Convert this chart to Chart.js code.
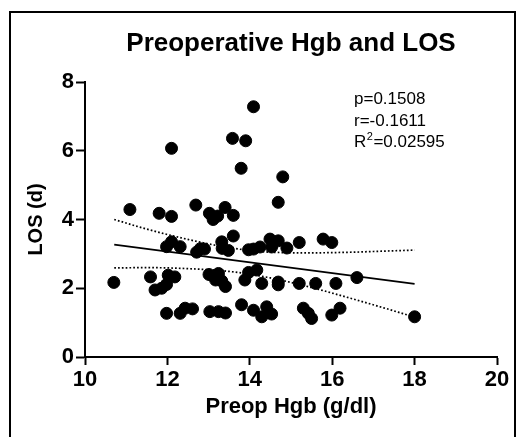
<!DOCTYPE html>
<html><head><meta charset="utf-8">
<script src="https://cdn.jsdelivr.net/npm/chart.js@4.4.0/dist/chart.umd.min.js"></script>
<style>
html,body{margin:0;padding:0;background:#fff;overflow:hidden;}
#wrap{position:relative;width:519px;height:437px;overflow:hidden;}
#frame{position:absolute;left:9px;top:11px;width:503px;height:440px;border:2px solid #000;pointer-events:none;}
canvas{position:absolute;left:0;top:0;}
</style></head><body>
<div id="wrap"><canvas id="c" width="519" height="437"></canvas><div id="frame"></div></div>
<script>
// Scatter data
const hgb = [10.70, 11.09, 11.59, 11.70, 11.80, 11.86, 11.98, 11.98, 11.98, 12.02,
             12.10, 12.10, 12.10, 12.18, 12.31, 12.31, 12.43, 12.61, 12.69, 12.71,
             12.80, 12.90, 13.02, 13.11, 13.22, 13.01, 13.24, 13.17, 13.32, 13.41,
             13.03, 13.24, 13.41, 13.32, 13.33, 13.48, 13.40, 13.60, 13.60, 13.58,
             13.90, 13.79, 13.80, 13.88, 13.97, 14.17, 13.97, 14.09, 14.25, 14.09,
             14.09, 14.29, 14.29, 14.41, 14.53, 14.49, 14.53, 14.69, 14.69, 14.69,
             14.69, 14.80, 14.90, 15.20, 15.20, 15.30, 15.42, 15.50, 15.60, 15.78,
             15.99, 15.99, 16.09, 16.19, 16.60, 18.00];
const los = [2.17, 4.29, 2.33, 1.95, 4.18, 2.00, 2.11, 1.27, 3.21, 2.38,
             6.07, 4.09, 3.35, 2.33, 3.21, 1.27, 1.42, 1.40, 4.42, 3.05,
             3.15, 3.14, 4.18, 4.00, 4.10, 2.40, 2.43, 2.24, 2.21, 2.05,
             1.32, 1.32, 1.28, 3.35, 3.16, 3.10, 4.35, 4.12, 3.52, 6.36,
             6.29, 5.49, 1.52, 2.24, 2.46, 2.53, 3.12, 3.14, 3.20, 7.28,
             1.36, 2.14, 1.17, 1.46, 1.25, 3.43, 3.20, 3.38, 4.50, 2.10,
             2.18, 5.24, 3.17, 3.33, 2.14, 1.42, 1.27, 1.12, 2.14, 3.43,
             3.33, 1.22, 2.14, 1.42, 2.31, 1.17];
// Regression line end points
const fitX = [10.71, 18.0];
const fitY = [3.27, 2.13];
// Confidence band (dotted)
const bandX = [10.71, 11.5, 12.5, 13.5, 14.5, 15.5, 16.5, 17.25, 18.0];
const bandUpper = [4.00, 3.72, 3.42, 3.18, 3.05, 3.03, 3.05, 3.08, 3.11];
const bandLower = [2.59, 2.60, 2.57, 2.49, 2.30, 2.02, 1.69, 1.43, 1.16];
// Tick labels
const xTicks = [10, 12, 14, 16, 18, 20];
const yTicks = [0, 2, 4, 6, 8];
const titleText = 'Preoperative Hgb and LOS';
const xTitle = 'Preop Hgb (g/dl)';
const yTitle = 'LOS (d)';
const statP = 'p=0.1508';
const statR = 'r=-0.1611';
const statR2 = '0.02595';

const FONT = "'Liberation Sans', Arial, Helvetica, sans-serif";

const textPlugin = {
  id: 'texts',
  afterDraw(chart) {
    const ctx = chart.ctx;
    const ca = chart.chartArea;
    ctx.save();
    ctx.fillStyle = '#000';
    ctx.textBaseline = 'alphabetic';
    ctx.textAlign = 'center';
    ctx.font = 'bold 26px ' + FONT;
    ctx.fillText(titleText, (ca.left + ca.right) / 2, 51);
    ctx.textAlign = 'left';
    ctx.font = '17px ' + FONT;
    const sx = 354;
    ctx.fillText(statP, sx, 104);
    ctx.fillText(statR, sx, 125.5);
    ctx.fillText('R', sx, 147);
    const rw = ctx.measureText('R').width;
    ctx.font = '11px ' + FONT;
    ctx.fillText('2', sx + rw + 0.5, 140);
    const w2 = ctx.measureText('2').width;
    ctx.font = '17px ' + FONT;
    ctx.fillText('=' + statR2, sx + rw + w2 + 1, 147);
    ctx.restore();
  }
};

const tickFont = { family: FONT, size: 22, weight: 'bold' };

new Chart(document.getElementById('c'), {
  type: 'scatter',
  data: {
    datasets: [
      {
        data: hgb.map((x, i) => ({ x: x, y: los[i] })),
        pointRadius: 6, pointHoverRadius: 6,
        pointBackgroundColor: '#000', pointBorderColor: '#000', pointBorderWidth: 1
      },
      {
        type: 'line',
        data: fitX.map((x, i) => ({ x: x, y: fitY[i] })),
        borderColor: '#000', borderWidth: 1.8, pointRadius: 0, fill: false
      },
      {
        type: 'line',
        data: bandX.map((x, i) => ({ x: x, y: bandUpper[i] })),
        borderColor: '#000', borderWidth: 1.7, borderDash: [1.7, 2.1],
        pointRadius: 0, fill: false, cubicInterpolationMode: 'monotone'
      },
      {
        type: 'line',
        data: bandX.map((x, i) => ({ x: x, y: bandLower[i] })),
        borderColor: '#000', borderWidth: 1.7, borderDash: [1.7, 2.1],
        pointRadius: 0, fill: false, cubicInterpolationMode: 'monotone'
      }
    ]
  },
  options: {
    responsive: false,
    animation: false,
    events: [],
    layout: { padding: { left: 0, right: 22, top: 82, bottom: 0 } },
    plugins: { legend: { display: false }, tooltip: { enabled: false }, title: { display: false } },
    scales: {
      x: {
        type: 'linear', min: 10, max: 20,
        afterBuildTicks: s => { s.ticks = xTicks.map(v => ({ value: v })); },
        afterFit: s => { s.height = 80; },
        ticks: { font: tickFont, color: '#000', padding: 2, maxRotation: 0 },
        grid: { drawOnChartArea: false, drawTicks: true, tickLength: 8, tickWidth: 2, tickColor: '#000' },
        border: { display: true, color: '#000', width: 2 },
        title: { display: true, text: xTitle, color: '#000', font: { family: FONT, size: 22, weight: 'bold' }, padding: { top: 0, bottom: 17 } }
      },
      y: {
        type: 'linear', min: 0, max: 8,
        afterBuildTicks: s => { s.ticks = yTicks.map(v => ({ value: v })); },
        afterFit: s => { s.width = 85; },
        ticks: { font: tickFont, color: '#000', padding: 2 },
        grid: { drawOnChartArea: false, drawTicks: true, tickLength: 9, tickWidth: 2, tickColor: '#000' },
        border: { display: true, color: '#000', width: 2 },
        title: { display: true, text: yTitle, color: '#000', font: { family: FONT, size: 20, weight: 'bold' }, padding: { top: 24.5, bottom: 0 } }
      }
    }
  },
  plugins: [textPlugin]
});
</script>
</body></html>
